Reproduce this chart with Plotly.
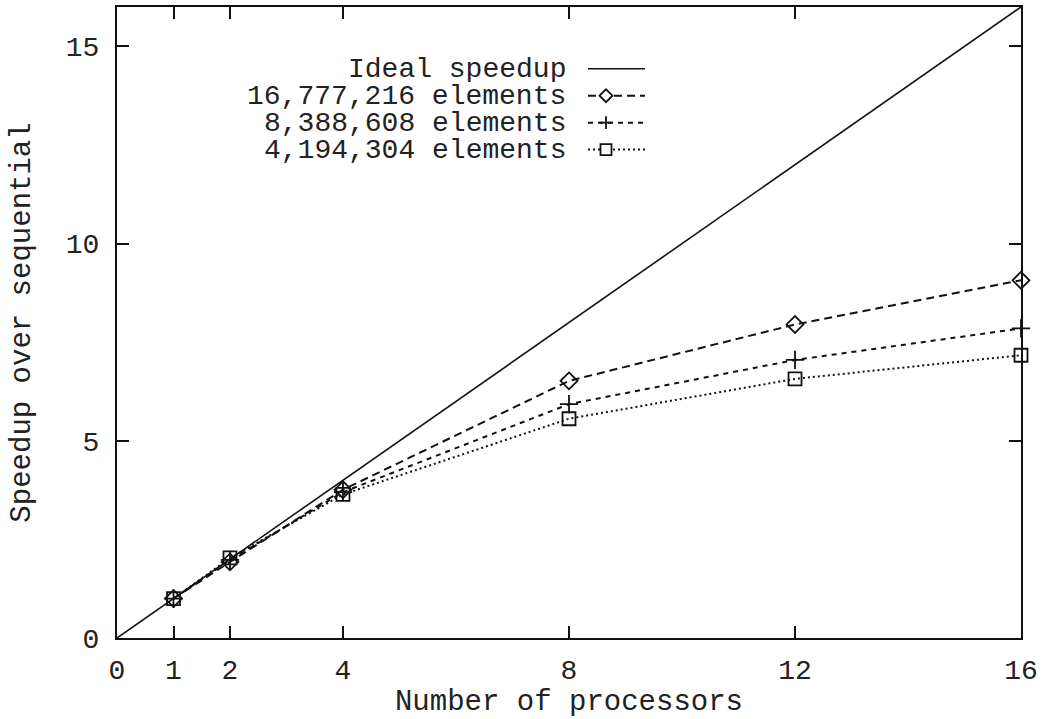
import plotly.graph_objects as go

# ---- data ----
processors = [1, 2, 4, 8, 12, 16]
ideal_x = [0, 16]
ideal_y = [0, 16]
speedup_16m = [1.0, 1.93, 3.76, 6.52, 7.95, 9.07]
speedup_8m = [1.0, 1.98, 3.70, 5.93, 7.05, 7.85]
speedup_4m = [1.0, 2.03, 3.64, 5.56, 6.57, 7.17]
series_names = ["Ideal speedup", "16,777,216 elements",
                "8,388,608 elements", "4,194,304 elements"]
x_ticks = [0, 1, 2, 4, 8, 12, 16]
y_ticks = [0, 5, 10, 15]
x_title = "Number of processors"
y_title = "Speedup over sequential"

FONT = "Liberation Mono"
INK = "#111111"
TXT = "#222222"

W, H = 1045, 719
ML, MR, MT, MB = 117, 24, 5, 81
PW, PH = W - ML - MR, H - MT - MB

# style per series: (dash, symbol, width)
styles = [
    ("solid", None, 1.6),
    ("8px,5px", "diamond-open", 2.0),
    ("5px,5px", "cross-thin", 2.0),
    ("2px,3px", "square-open", 2.0),
]

fig = go.Figure()
fig.add_trace(go.Scatter(x=ideal_x, y=ideal_y, mode="lines",
                         line=dict(color=INK, width=styles[0][2]),
                         name=series_names[0], showlegend=False))
for name, ys, (dash, sym, lw) in zip(series_names[1:],
                                     [speedup_16m, speedup_8m, speedup_4m],
                                     styles[1:]):
    fig.add_trace(go.Scatter(
        x=processors, y=ys, mode="lines+markers", name=name, showlegend=False,
        line=dict(color=INK, width=lw, dash=dash),
        marker=dict(symbol=sym, size=13, color=INK,
                    line=dict(color=INK, width=1.8)),
        cliponaxis=False))

# ---- legend (gnuplot style: text left, sample right) ----
def px_to_paper_x(px):
    return (px - ML) / PW

def py_to_paper_y(py):
    return (H - MB - py) / PH

rows = [67, 94, 121, 148]
text_right = 568
line_x0, line_x1, mark_x = 588, 645, 606
shapes = []
annotations = []
for i, (name, (dash, sym, lw)) in enumerate(zip(series_names, styles)):
    yp = py_to_paper_y(rows[i])
    annotations.append(dict(
        x=px_to_paper_x(text_right), y=yp, xref="paper", yref="paper",
        text=name, showarrow=False, xanchor="right", yanchor="middle",
        height=26, valign="middle",
        font=dict(family=FONT, size=28, color=TXT)))
    shapes.append(dict(type="line", xref="paper", yref="paper",
                       x0=px_to_paper_x(line_x0), x1=px_to_paper_x(line_x1),
                       y0=yp, y1=yp,
                       line=dict(color=INK, width=lw, dash=dash)))
    cx, cy = px_to_paper_x(mark_x), yp
    hx, hy = 6.5 / PW, 6.5 / PH
    if sym == "diamond-open":
        shapes.append(dict(type="path", xref="paper", yref="paper",
                           path=f"M {cx-hx},{cy} L {cx},{cy+hy} L {cx+hx},{cy} L {cx},{cy-hy} Z",
                           fillcolor="white", line=dict(color=INK, width=1.8)))
    elif sym == "cross-thin":
        shapes.append(dict(type="line", xref="paper", yref="paper",
                           x0=cx - hx, x1=cx + hx, y0=cy, y1=cy,
                           line=dict(color=INK, width=1.8)))
        shapes.append(dict(type="line", xref="paper", yref="paper",
                           x0=cx, x1=cx, y0=cy - hy, y1=cy + hy,
                           line=dict(color=INK, width=1.8)))
    elif sym == "square-open":
        sx, sy = 5.5 / PW, 5.5 / PH
        shapes.append(dict(type="rect", xref="paper", yref="paper",
                           x0=cx - sx, x1=cx + sx, y0=cy - sy, y1=cy + sy,
                           fillcolor="white", line=dict(color=INK, width=1.8)))

axis_common = dict(
    showgrid=False, zeroline=False, showline=True, linecolor=INK, linewidth=2,
    mirror="ticks", ticks="inside", ticklen=12, tickwidth=2, tickcolor=INK,
    tickfont=dict(family=FONT, size=28, color=TXT),
)

fig.update_layout(
    width=W, height=H,
    margin=dict(l=ML, r=MR, t=MT, b=MB),
    paper_bgcolor="white", plot_bgcolor="white",
    showlegend=False,
    shapes=shapes, annotations=annotations,
    xaxis=dict(range=[0, 16], tickmode="array", tickvals=x_ticks,
               ticktext=[str(v) for v in x_ticks],
               ticklabelstandoff=5,
               title=dict(text=x_title, standoff=4,
                          font=dict(family=FONT, size=29, color=TXT)),
               **axis_common),
    yaxis=dict(range=[0, 16], tickmode="array", tickvals=y_ticks,
               ticktext=[str(v) for v in y_ticks],
               ticklabelstandoff=10,
               title=dict(text=y_title, standoff=27,
                          font=dict(family=FONT, size=29, color=TXT)),
               **axis_common),
)

fig.write_html("out.html")
